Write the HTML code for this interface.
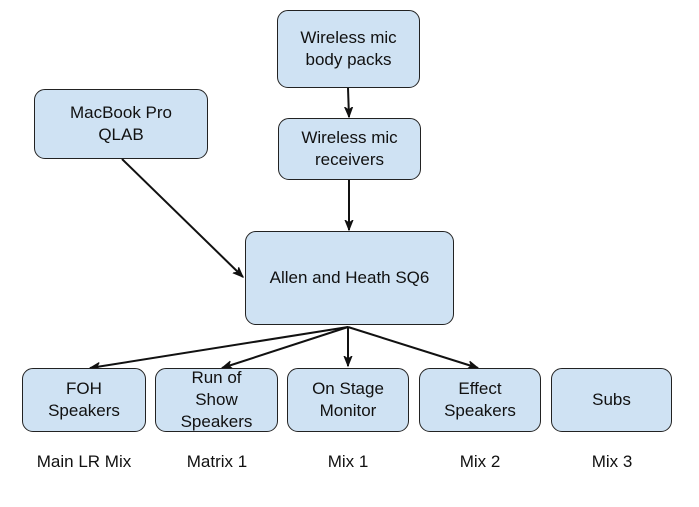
<html><body style="margin:0;width:699px;height:507px;background:#fff;position:relative;overflow:hidden;font-family:'Liberation Sans',sans-serif">
<style>
.b{position:absolute;background:#cfe2f3;border:1.3px solid #222;border-radius:11px;box-sizing:border-box;display:flex;align-items:center;justify-content:center;text-align:center;font-size:17px;line-height:22px;color:#111}
.l{position:absolute;top:452px;font-size:17px;width:130px;text-align:center;color:#111}
</style>
<svg width="699" height="507" style="position:absolute;left:0;top:0">
<defs><marker id="a" markerWidth="12" markerHeight="10" refX="10" refY="5" orient="auto" markerUnits="userSpaceOnUse"><path d="M0,1 L10,5 L0,9 L3,5 Z" fill="#111" stroke="#111" stroke-width="1"/></marker></defs>
<g stroke="#111" stroke-width="2" fill="none" marker-end="url(#a)">
<line x1="348" y1="88" x2="349" y2="117"/>
<line x1="349" y1="178" x2="349" y2="230"/>
<line x1="122" y1="159" x2="243" y2="277"/>
<line x1="348" y1="327" x2="90" y2="368"/>
<line x1="348" y1="327" x2="222" y2="368"/>
<line x1="348" y1="327" x2="348" y2="366"/>
<line x1="348" y1="327" x2="478" y2="368"/>
</g></svg>
<div class="b" style="left:277px;top:10px;width:143px;height:78px">Wireless mic<br>body packs</div>
<div class="b" style="left:278px;top:118px;width:143px;height:62px">Wireless mic<br>receivers</div>
<div class="b" style="left:34px;top:89px;width:174px;height:70px">MacBook Pro<br>QLAB</div>
<div class="b" style="left:245px;top:231px;width:209px;height:94px">Allen and Heath SQ6</div>
<div class="b" style="left:22px;top:368px;width:124px;height:64px">FOH<br>Speakers</div>
<div class="b" style="left:155px;top:368px;width:123px;height:64px">Run of<br>Show<br>Speakers</div>
<div class="b" style="left:287px;top:368px;width:122px;height:64px">On Stage<br>Monitor</div>
<div class="b" style="left:419px;top:368px;width:122px;height:64px">Effect<br>Speakers</div>
<div class="b" style="left:551px;top:368px;width:121px;height:64px">Subs</div>
<div class="l" style="left:19px">Main LR Mix</div>
<div class="l" style="left:152px">Matrix 1</div>
<div class="l" style="left:283px">Mix 1</div>
<div class="l" style="left:415px">Mix 2</div>
<div class="l" style="left:547px">Mix 3</div>
</body></html>
